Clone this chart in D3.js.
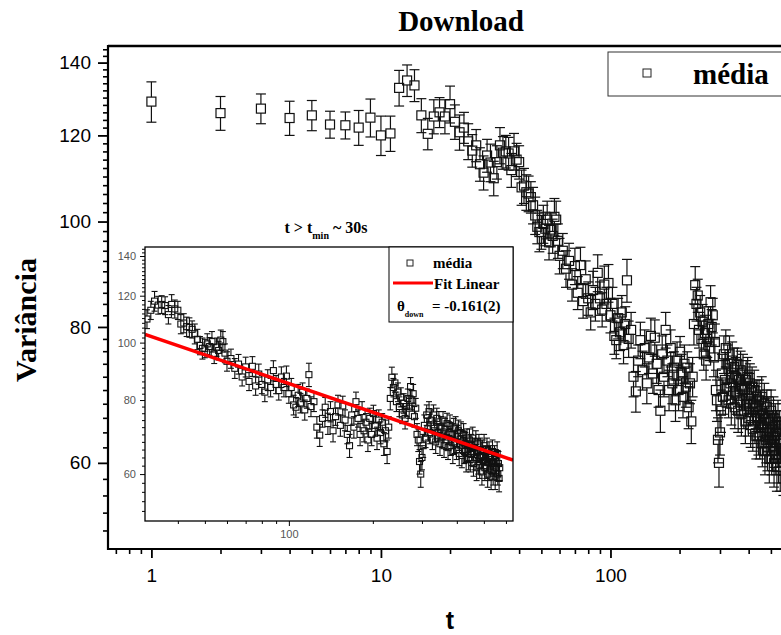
<!DOCTYPE html>
<html>
<head>
<meta charset="utf-8">
<script src="https://cdn.jsdelivr.net/npm/d3@7/dist/d3.min.js"></script>
<style>
body { margin: 0; background: #fff; }
svg { display: block; }
</style>
</head>
<body>
<div class="chart"></div>
<script>
// time (s)
var tValues = [
    1, 2, 3, 4, 5, 6, 7, 8, 9, 10,
    11, 12, 13, 14, 15, 16, 17, 18, 19, 20,
    21, 22, 23, 24, 25, 26, 27, 28, 29, 30,
    31, 32, 33, 34, 35, 36, 37, 38, 39, 40,
    41, 42, 43, 44, 45, 46, 47, 48, 49, 50,
    51, 52, 53, 54, 55, 56, 57, 58, 59, 60,
    62, 64, 66, 68, 70, 72, 74, 76, 78, 80,
    82, 84, 86, 88, 90, 92, 94, 96, 98, 100,
    102, 104, 106, 108, 110, 112, 114, 116, 118, 120,
    123, 126, 129, 132, 135, 138, 141, 144, 147, 150,
    153, 156, 159, 162, 165, 168, 171, 174, 177, 180,
    183, 186, 189, 192, 195, 198, 201, 204, 207, 210,
    213, 216, 219, 222, 225, 228, 231, 234, 237, 240,
    243, 246, 249, 252, 255, 258, 261, 264, 267, 270,
    273, 276, 279, 282, 285, 288, 291, 294, 297, 300,
    303, 306, 309, 312, 315, 318, 321, 324, 327, 330,
    333, 336, 339, 342, 345, 348, 351, 354, 357, 360,
    363, 366, 369, 372, 375, 378, 381, 384, 387, 390,
    393, 396, 399, 402, 405, 408, 411, 414, 417, 420,
    423, 426, 429, 432, 435, 438, 441, 444, 447, 450,
    453, 456, 459, 462, 465, 468, 471, 474, 477, 480,
    483, 486, 489, 492, 495, 498, 501, 504, 507, 510,
    513, 516, 519, 522, 525, 528, 531, 534, 537, 540,
    543, 546, 549, 552, 555, 558, 561, 564, 567, 570
];

// média (variância)
var meanValues = [
    128.9, 125.8, 127.0, 124.5, 125.2, 122.8, 122.6, 122.0, 124.6, 120.0,
    120.5, 132.7, 134.8, 133.4, 125.2, 120.4, 124.9, 126.0, 124.9, 128.2,
    123.5, 120.8, 122.0, 118.5, 116.2, 117.5, 112.9, 110.9, 115.0, 113.3,
    109.6, 113.4, 117.5, 115.7, 116.0, 115.5, 111.5, 116.0, 114.0, 113.4,
    107.5, 107.9, 106.4, 106.1, 105.3, 103.5, 101.3, 98.9, 97.8, 97.8,
    99.5, 98.5, 100.4, 95.7, 98.3, 97.0, 101.0, 100.4, 96.0, 93.0,
    94.0, 90.5, 92.0, 87.5, 91.0, 86.0, 91.2, 84.5, 88.5, 85.0,
    82.5, 86.5, 84.0, 89.7, 85.0, 83.0, 87.5, 84.0, 87.8, 82.0,
    84.0, 78.5, 77.8, 81.5, 79.1, 82.5, 77.0, 80.5, 88.3, 78.0,
    79.5, 72.0, 69.8, 74.5, 77.8, 73.0, 76.5, 71.0, 75.0, 78.5,
    72.5, 78.2, 74.0, 70.0, 67.0, 75.5, 72.0, 79.5, 74.5, 70.0,
    76.5, 71.0, 73.4, 68.5, 74.5, 70.0, 75.9, 72.5, 69.0, 74.0,
    70.5, 73.4, 67.5, 71.0, 65.5, 72.0, 80.5, 87.4, 84.0, 85.5,
    79.5, 82.5, 78.0, 80.9, 75.5, 79.0, 74.5, 78.0, 80.5, 77.5,
    84.3, 80.0, 82.0, 75.0, 77.5, 70.0, 68.5, 63.0, 60.0, 64.0,
    67.0, 72.5, 69.0, 75.5, 71.5, 76.5, 70.5, 74.0, 68.5, 75.5,
    71.0, 68.0, 74.5, 70.5, 73.5, 67.5, 72.0, 69.5, 74.0, 67.0,
    71.5, 68.5, 73.0, 66.5, 70.5, 72.5, 67.0, 70.0, 65.5, 71.5,
    68.0, 72.0, 66.0, 69.5, 71.0, 65.0, 68.7, 70.5, 64.5, 68.0,
    70.0, 65.5, 67.5, 63.5, 69.0, 66.0, 64.0, 68.5, 63.5, 67.0,
    65.0, 69.0, 62.5, 66.5, 64.0, 68.0, 61.5, 65.8, 63.0, 67.5,
    62.0, 66.0, 64.0, 60.5, 65.5, 63.0, 67.0, 61.5, 64.5, 62.0,
    66.0, 60.0, 63.5, 65.0, 61.0, 64.0, 59.5, 63.0, 65.5, 60.5,
    62.5, 64.5, 59.5, 63.0, 61.5, 65.0, 60.0, 62.5, 59.0, 61.5
];

// error bars (+/-)
var errValues = [
    5.5, 4.5, 4.0, 4.5, 4.0, 3.5, 3.5, 4.5, 5.0, 5.0,
    4.5, 5.0, 4.5, 4.5, 4.5, 4.0, 4.5, 4.0, 4.5, 5.0,
    4.5, 4.5, 4.0, 4.5, 4.0, 4.0, 4.0, 4.0, 4.0, 4.5,
    4.0, 4.0, 4.5, 4.0, 4.0, 4.0, 4.0, 4.5, 4.0, 4.0,
    4.0, 4.0, 4.0, 4.0, 3.5, 4.0, 4.0, 3.5, 4.0, 3.5,
    4.0, 3.5, 4.0, 3.5, 3.5, 3.5, 4.0, 4.0, 3.5, 3.5,
    3.5, 3.5, 3.5, 3.0, 3.5, 3.0, 3.5, 3.0, 3.5, 3.0,
    3.0, 3.5, 3.0, 3.5, 3.0, 3.0, 3.5, 3.0, 3.5, 3.0,
    3.0, 3.0, 3.0, 3.5, 3.0, 3.0, 3.0, 3.0, 4.0, 3.0,
    3.0, 3.0, 3.0, 2.5, 3.0, 3.0, 3.0, 3.0, 2.5, 3.0,
    3.0, 3.0, 3.0, 2.5, 3.0, 3.0, 3.0, 3.0, 2.5, 3.0,
    3.0, 3.0, 2.5, 3.0, 3.0, 3.0, 2.5, 3.0, 3.0, 3.0,
    3.0, 2.5, 3.0, 3.0, 3.0, 3.0, 3.5, 3.5, 3.0, 3.0,
    3.0, 3.0, 3.0, 3.0, 2.5, 3.0, 3.0, 3.0, 3.0, 3.0,
    3.0, 3.0, 3.0, 3.0, 3.0, 3.0, 3.0, 3.0, 3.0, 3.0,
    3.0, 3.0, 2.5, 3.0, 3.0, 3.0, 3.0, 3.0, 2.5, 3.0,
    3.0, 3.0, 3.0, 2.5, 3.0, 3.0, 3.0, 3.0, 2.5, 3.0,
    3.0, 2.5, 3.0, 3.0, 3.0, 3.0, 2.5, 3.0, 3.0, 3.0,
    3.0, 3.0, 2.5, 3.0, 3.0, 3.0, 2.5, 3.0, 3.0, 3.0,
    3.0, 3.0, 3.0, 3.0, 2.5, 3.0, 3.0, 3.0, 3.0, 3.0,
    3.0, 3.0, 3.0, 2.5, 3.0, 3.0, 3.0, 3.0, 3.0, 2.5,
    3.0, 3.0, 2.5, 3.0, 3.0, 3.0, 3.0, 3.0, 2.5, 3.0,
    3.0, 3.0, 3.0, 3.0, 2.5, 3.0, 3.0, 3.0, 3.0, 3.0,
    3.0, 2.5, 3.0, 3.0, 3.0, 3.0, 2.5, 3.0, 3.0, 3.0
];

// linear fit in log-log (inset), t > tmin
var fitSlope = -0.161;
var fitIntercept = 2.253;
var tMin = 30;

// ticks
var xMainMajor = [1, 10, 100];
var xMainMinor = [0.7, 0.8, 0.9, 2, 3, 4, 5, 6, 7, 8, 9, 20, 30, 40, 50, 60, 70, 80, 90, 200, 300, 400, 500, 600, 700, 800, 900];
var yMajor = [60, 80, 100, 120, 140];
var yMinor = [52, 54, 56, 58, 62, 64, 66, 68, 70, 72, 74, 76, 78, 82, 84, 86, 88, 90, 92, 94, 96, 98,
    102, 104, 106, 108, 110, 112, 114, 116, 118, 122, 124, 126, 128, 130, 132, 134, 136, 138, 142, 144];
var xInsetMajor = [100];
var xInsetMinor = [40, 50, 60, 70, 80, 90, 200, 300, 400, 500, 600];

var svgWidth = 781;
var svgHeight = 635;

var fontSans = "Arial, 'Liberation Sans', sans-serif";
var fontSerif = "'Book Antiqua', Palatino, 'Liberation Serif', serif";

var plot = { left: 108, top: 46, bottom: 549, right: 840 };
var inset = { left: 145, right: 513, top: 247, bottom: 521 };

var points = tValues.map(function(t, i) {
    return { t: t, mean: meanValues[i], err: errValues[i] };
});

var svg = d3.select(".chart")
    .append("svg")
    .attr("width", svgWidth)
    .attr("height", svgHeight);

var xMain = d3.scaleLog().domain([0.647, 1000]).range([plot.left, plot.right]);
var yMain = d3.scaleLog().domain([50, 145]).range([plot.bottom, plot.top]);

var xInset = d3.scaleLog().domain([30.5, 636]).range([inset.left, inset.right]);
var yInset = d3.scaleLog().domain([50, 145]).range([inset.bottom, inset.top]);

var defs = svg.append("defs");
defs.append("clipPath").attr("id", "clipMain").append("rect")
    .attr("x", plot.left).attr("y", plot.top)
    .attr("width", plot.right - plot.left).attr("height", plot.bottom - plot.top);
defs.append("clipPath").attr("id", "clipInset").append("rect")
    .attr("x", inset.left).attr("y", inset.top)
    .attr("width", inset.right - inset.left).attr("height", inset.bottom - inset.top);

function styleAxis(g, width, fontSize, color) {
    g.select(".domain").remove();
    g.selectAll(".tick line").attr("stroke", "#000").attr("stroke-width", width);
    g.selectAll(".tick text")
        .attr("fill", color)
        .style("font-family", fontSans)
        .style("font-size", fontSize + "px");
}

function drawPoints(g, data, x, y, size, cap, width) {
    var pt = g.selectAll("g.pt")
        .data(data)
        .enter()
        .append("g")
        .attr("class", "pt")
        .attr("stroke", "#111")
        .attr("stroke-width", width)
        .attr("fill", "none");

    // upper and lower bar, leaving the square empty
    pt.append("line")
        .attr("x1", d => x(d.t)).attr("x2", d => x(d.t))
        .attr("y1", d => y(d.mean + d.err)).attr("y2", d => y(d.mean) - size / 2);
    pt.append("line")
        .attr("x1", d => x(d.t)).attr("x2", d => x(d.t))
        .attr("y1", d => y(d.mean) + size / 2).attr("y2", d => y(d.mean - d.err));
    pt.append("line")
        .attr("x1", d => x(d.t) - cap / 2).attr("x2", d => x(d.t) + cap / 2)
        .attr("y1", d => y(d.mean + d.err)).attr("y2", d => y(d.mean + d.err));
    pt.append("line")
        .attr("x1", d => x(d.t) - cap / 2).attr("x2", d => x(d.t) + cap / 2)
        .attr("y1", d => y(d.mean - d.err)).attr("y2", d => y(d.mean - d.err));
    pt.append("rect")
        .attr("x", d => x(d.t) - size / 2)
        .attr("y", d => y(d.mean) - size / 2)
        .attr("width", size)
        .attr("height", size);
}

// ---------- main plot ----------
var mainData = svg.append("g").attr("clip-path", "url(#clipMain)");
drawPoints(mainData, points, xMain, yMain, 9, 10, 1.2);

// axes
var gx = svg.append("g").attr("transform", `translate(0, ${plot.bottom})`);
gx.append("g").call(d3.axisBottom(xMain).tickValues(xMainMinor).tickSize(5).tickFormat(""))
    .call(g => styleAxis(g, 1.6, 19, "#000"));
gx.append("g").call(d3.axisBottom(xMain).tickValues(xMainMajor).tickSize(9).tickPadding(11).tickFormat(d3.format("d")))
    .call(g => styleAxis(g, 1.8, 19, "#000"));

var gy = svg.append("g").attr("transform", `translate(${plot.left}, 0)`);
gy.append("g").call(d3.axisLeft(yMain).tickValues(yMinor).tickSize(5).tickFormat(""))
    .call(g => styleAxis(g, 1.6, 19, "#000"));
gy.append("g").call(d3.axisLeft(yMain).tickValues(yMajor).tickSize(10).tickPadding(7).tickFormat(d3.format("d")))
    .call(g => styleAxis(g, 1.8, 19, "#000"));

// frame
svg.append("line").attr("x1", plot.left).attr("x2", svgWidth).attr("y1", plot.top).attr("y2", plot.top)
    .attr("stroke", "#000").attr("stroke-width", 2.5);
svg.append("line").attr("x1", plot.left).attr("x2", svgWidth).attr("y1", plot.bottom).attr("y2", plot.bottom)
    .attr("stroke", "#000").attr("stroke-width", 2.2);
svg.append("line").attr("x1", plot.left).attr("x2", plot.left).attr("y1", plot.top - 1).attr("y2", plot.bottom + 1)
    .attr("stroke", "#000").attr("stroke-width", 2.2);

// title and axis labels
svg.append("text")
    .attr("x", 461).attr("y", 31)
    .attr("text-anchor", "middle")
    .style("font-family", fontSerif).style("font-weight", "bold").style("font-size", "29px")
    .text("Download");

svg.append("text")
    .attr("transform", "translate(36, 320) rotate(-90)")
    .attr("text-anchor", "middle")
    .style("font-family", fontSerif).style("font-weight", "bold").style("font-size", "30px")
    .text("Variância");

svg.append("text")
    .attr("x", 450).attr("y", 629)
    .attr("text-anchor", "middle")
    .style("font-family", fontSans).style("font-weight", "bold").style("font-size", "25px")
    .text("t");

// main legend
var legend = svg.append("g");
legend.append("rect")
    .attr("x", 608).attr("y", 52).attr("width", 200).attr("height", 44)
    .attr("fill", "#fff").attr("stroke", "#333").attr("stroke-width", 1);
legend.append("rect")
    .attr("x", 643).attr("y", 69).attr("width", 8).attr("height", 8)
    .attr("fill", "none").attr("stroke", "#222").attr("stroke-width", 1);
legend.append("text")
    .attr("x", 693).attr("y", 84)
    .style("font-family", fontSerif).style("font-weight", "bold").style("font-size", "29px")
    .text("média");

// ---------- inset ----------
svg.append("rect")
    .attr("x", inset.left).attr("y", inset.top)
    .attr("width", inset.right - inset.left).attr("height", inset.bottom - inset.top)
    .attr("fill", "#fff");

var insetData = svg.append("g").attr("clip-path", "url(#clipInset)");
drawPoints(insetData, points.filter(d => d.t > tMin), xInset, yInset, 6, 6, 1.1);

var fitLine = d3.line()
    .x(d => xInset(d))
    .y(d => yInset(Math.pow(10, fitIntercept + fitSlope * Math.log10(d))));

insetData.append("path")
    .datum(xInset.domain())
    .attr("d", fitLine)
    .attr("fill", "none")
    .attr("stroke", "#ff0000")
    .attr("stroke-width", 3.5);

var ix = svg.append("g").attr("transform", `translate(0, ${inset.bottom})`);
ix.append("g").call(d3.axisBottom(xInset).tickValues(xInsetMinor).tickSize(3).tickFormat(""))
    .call(g => styleAxis(g, 1, 11, "#555"));
ix.append("g").call(d3.axisBottom(xInset).tickValues(xInsetMajor).tickSize(5).tickPadding(4).tickFormat(d3.format("d")))
    .call(g => styleAxis(g, 1, 11, "#555"));

var iy = svg.append("g").attr("transform", `translate(${inset.left}, 0)`);
iy.append("g").call(d3.axisLeft(yInset).tickValues(yMinor).tickSize(3).tickFormat(""))
    .call(g => styleAxis(g, 1, 11, "#555"));
iy.append("g").call(d3.axisLeft(yInset).tickValues(yMajor).tickSize(5).tickPadding(4).tickFormat(d3.format("d")))
    .call(g => styleAxis(g, 1, 11, "#555"));

svg.append("rect")
    .attr("x", inset.left).attr("y", inset.top)
    .attr("width", inset.right - inset.left).attr("height", inset.bottom - inset.top)
    .attr("fill", "none").attr("stroke", "#000").attr("stroke-width", 1.3);

// inset title
var insetTitle = svg.append("text")
    .attr("x", 326).attr("y", 233)
    .attr("text-anchor", "middle")
    .style("font-family", fontSerif).style("font-weight", "bold").style("font-size", "16px");
insetTitle.append("tspan").text("t > t");
insetTitle.append("tspan").attr("dy", 6).style("font-size", "10px").text("min");
insetTitle.append("tspan").attr("dy", -6).text(" ~ 30s");

// inset legend
var insetLegend = svg.append("g");
insetLegend.append("rect")
    .attr("x", 389).attr("y", inset.top).attr("width", inset.right - 389).attr("height", 75)
    .attr("fill", "#fff").attr("stroke", "#000").attr("stroke-width", 1);
insetLegend.append("rect")
    .attr("x", 407).attr("y", 260).attr("width", 6).attr("height", 6)
    .attr("fill", "none").attr("stroke", "#222").attr("stroke-width", 1);
insetLegend.append("text")
    .attr("x", 433).attr("y", 268)
    .style("font-family", fontSerif).style("font-weight", "bold").style("font-size", "15px")
    .text("média");
insetLegend.append("line")
    .attr("x1", 393).attr("x2", 433).attr("y1", 283).attr("y2", 283)
    .attr("stroke", "#ff0000").attr("stroke-width", 3);
insetLegend.append("text")
    .attr("x", 434).attr("y", 289)
    .style("font-family", fontSerif).style("font-weight", "bold").style("font-size", "15px")
    .text("Fit Linear");

var theta = insetLegend.append("text")
    .attr("x", 397).attr("y", 311)
    .style("font-family", fontSerif).style("font-weight", "bold").style("font-size", "15px");
theta.append("tspan").text("θ");
theta.append("tspan").attr("dy", 6).style("font-size", "8px").text("down");
theta.append("tspan").attr("dy", -6).attr("x", 432).text("= -0.161(2)");
</script>
</body>
</html>
